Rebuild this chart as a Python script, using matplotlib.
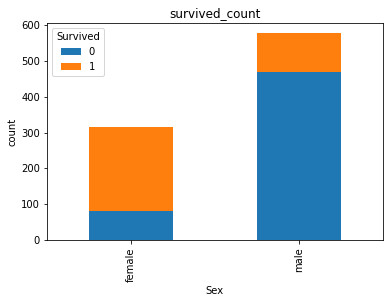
import numpy as np
import matplotlib
matplotlib.use("Agg")
import matplotlib.pyplot as plt

sexes = ["female", "male"]
died = [81, 468]
survived = [233, 109]

fig = plt.figure(figsize=(389 / 72, 303 / 72), dpi=72)
ax = fig.add_axes([0.1208, 0.2069, 0.8625, 0.7185])

x = np.arange(len(sexes))
ax.bar(x, died, width=0.5, color="#1f77b4", label="0")
ax.bar(x, survived, width=0.5, bottom=died, color="#ff7f0e", label="1")

ax.set_xticks(x)
ax.set_xticklabels(sexes, rotation=90)
ax.set_xlim(-0.5, 1.5)
ax.set_ylim(0, max(d + s for d, s in zip(died, survived)) * 1.05)
ax.set_xlabel("Sex")
ax.set_ylabel("count")
ax.set_title("survived_count")
ax.legend(title="Survived", loc="upper left")

fig.savefig("out.png", dpi=72)
